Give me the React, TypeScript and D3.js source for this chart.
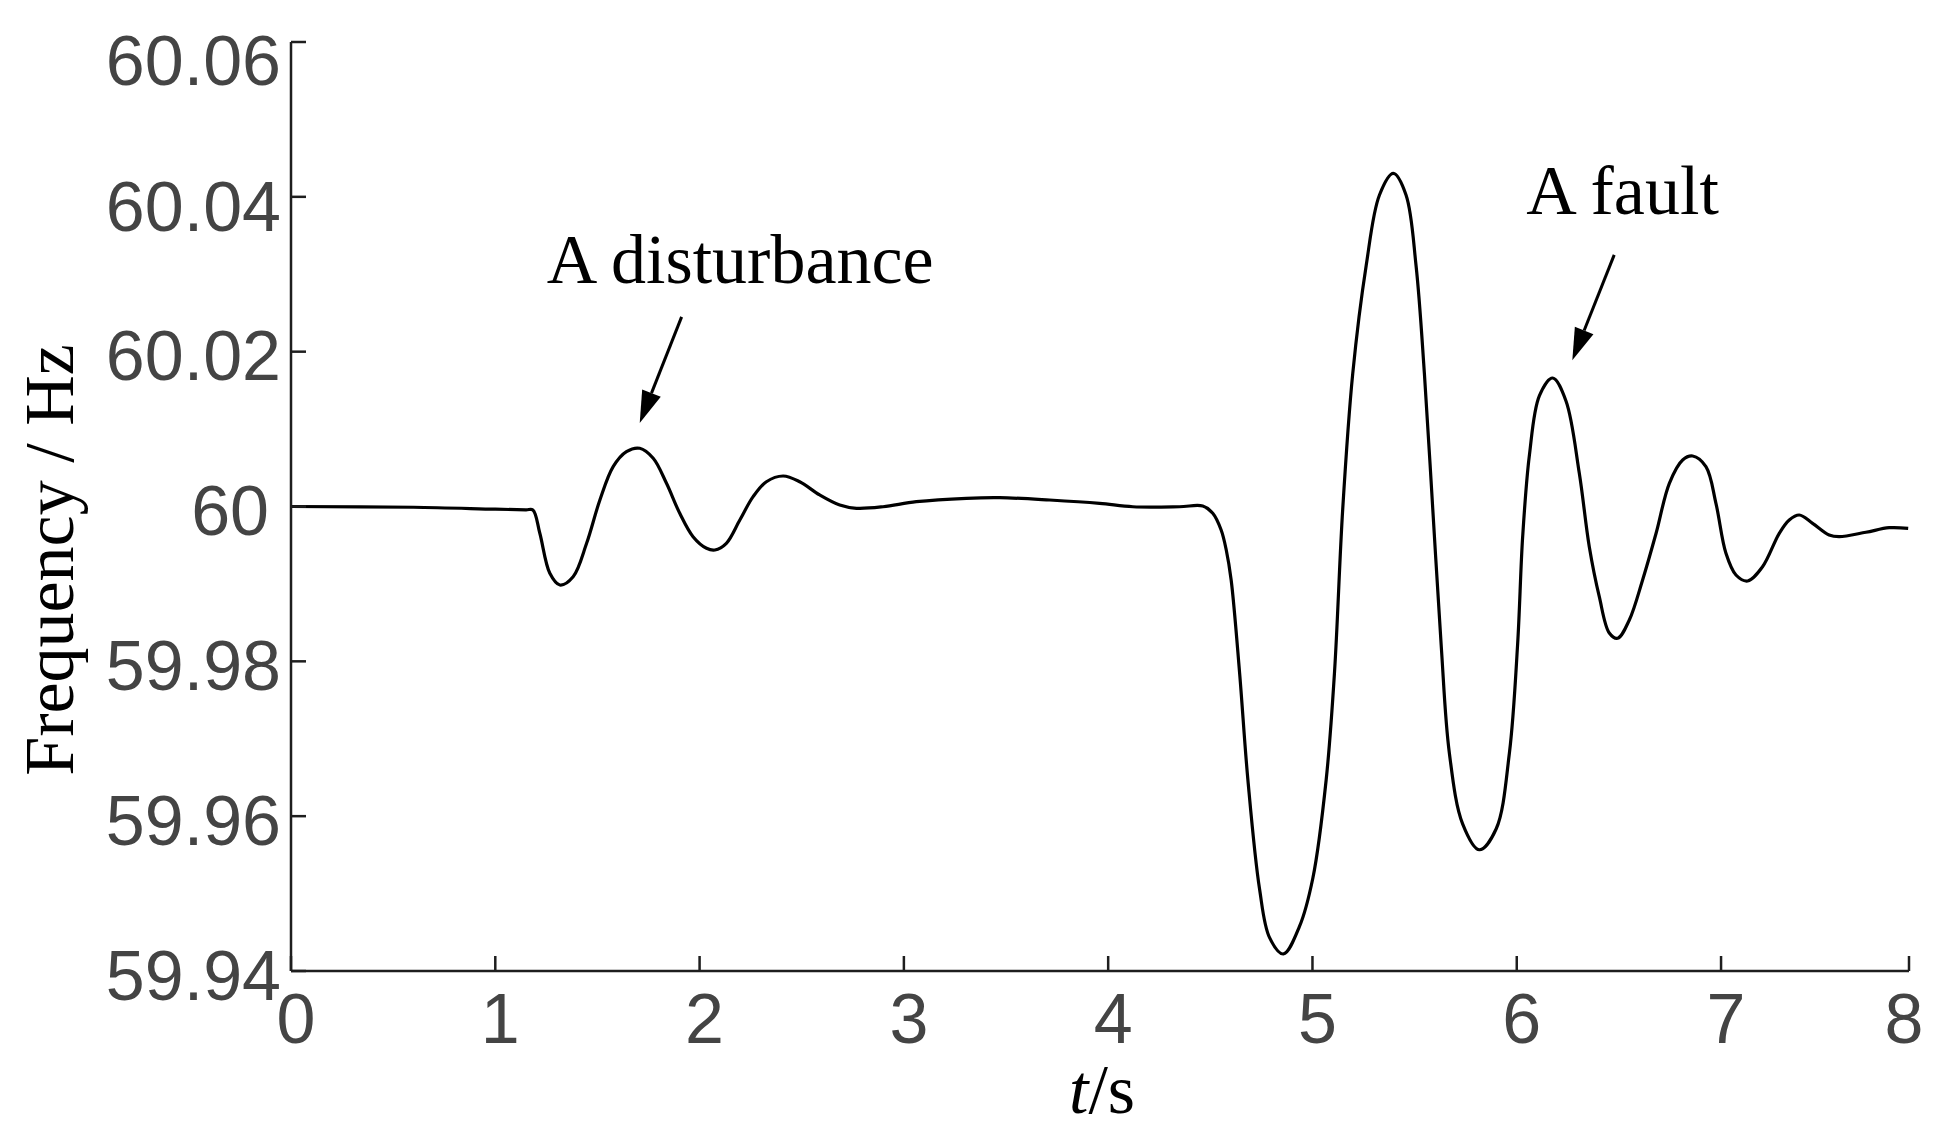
import React from "react";
import * as d3 from "d3";

// ---- data ----
const timeS = [0, 0.6, 1.0, 1.15, 1.184, 1.218, 1.267, 1.316, 1.381, 1.447, 1.512, 1.577, 1.642, 1.707, 1.773, 1.838, 1.903, 1.968, 2.034, 2.075, 2.131, 2.197, 2.262, 2.327, 2.409, 2.49, 2.588, 2.686, 2.768, 2.898, 3.061, 3.306, 3.469, 3.713, 3.958, 4.121, 4.349, 4.463, 4.512, 4.553, 4.578, 4.602, 4.643, 4.684, 4.741, 4.79, 4.858, 4.936, 5.002, 5.067, 5.108, 5.148, 5.197, 5.263, 5.328, 5.396, 5.458, 5.507, 5.548, 5.589, 5.63, 5.67, 5.735, 5.817, 5.899, 5.964, 6.004, 6.029, 6.062, 6.111, 6.176, 6.241, 6.306, 6.355, 6.404, 6.453, 6.494, 6.551, 6.616, 6.682, 6.747, 6.812, 6.861, 6.926, 6.975, 7.024, 7.073, 7.13, 7.203, 7.285, 7.334, 7.383, 7.448, 7.529, 7.578, 7.709, 7.823, 7.916];
const frequencyHz = [60.0, 59.9999, 59.99965, 59.99957, 59.99955, 59.99654, 59.99137, 59.98986, 59.99093, 59.99525, 60.00084, 60.00514, 60.00708, 60.00752, 60.00623, 60.003, 59.99912, 59.9961, 59.9946, 59.99438, 59.99525, 59.99826, 60.00127, 60.0032, 60.00394, 60.0032, 60.00149, 60.00019, 59.99977, 59.99997, 60.00062, 60.00106, 60.00114, 60.00084, 60.00041, 59.99997, 59.99997, 60.00006, 59.99912, 59.99696, 59.99438, 59.99051, 59.97862, 59.96467, 59.95059, 59.94431, 59.9422, 59.94572, 59.95201, 59.96467, 59.97862, 59.99963, 60.01712, 60.03113, 60.04024, 60.04303, 60.04024, 60.03113, 60.01712, 59.99963, 59.98211, 59.96816, 59.95901, 59.95566, 59.95834, 59.96816, 59.98211, 59.99613, 60.00665, 60.01432, 60.0166, 60.01363, 60.00433, 59.99481, 59.98835, 59.98366, 59.98298, 59.98534, 59.99051, 59.99654, 60.003, 60.00601, 60.00652, 60.00514, 60.00041, 59.99395, 59.99115, 59.99038, 59.99222, 59.99654, 59.99826, 59.9989, 59.99783, 59.99632, 59.9961, 59.99667, 59.99726, 59.99718];

const xTickValues = [0, 1, 2, 3, 4, 5, 6, 7];
const xTickLabels = ["0", "1", "2", "3", "4", "5", "6", "7", "8"];
const xEnd = 7.92; // right end of the drawn axis (labelled "8" in the figure)
const yTickValues = [60.06, 60.04, 60.02, 60, 59.98, 59.96, 59.94];
const yTickLabels = ["60.06", "60.04", "60.02", "60", "59.98", "59.96", "59.94"];

const annotationTexts = ["A disturbance", "A fault"];
const annotationTextAt = [[1.252, 60.0289], [6.047, 60.0378]];
const annotationArrowFrom = [[1.912, 60.0245], [6.477, 60.0325]];
const annotationArrowTo = [[1.707, 60.0108], [6.272, 60.0189]];

// ---- layout ----
const W = 1938;
const H = 1132;
const left = 291;
const right = 1909;
const top = 42;
const bottom = 971;
const sans = "'Liberation Sans', Arial, Helvetica, sans-serif";
const serif = "'Liberation Serif', 'Times New Roman', Times, serif";
const axisColor = "#1e1e1e";
const labelColor = "#444444";

export default function App() {
  const x = d3.scaleLinear().domain([0, xEnd]).range([left, right]);
  const y = d3.scaleLinear().domain([59.94, 60.06]).range([bottom, top]);

  const points: [number, number][] = timeS.map((t, i) => [t, frequencyHz[i]]);
  const line = d3
    .line<[number, number]>()
    .x((d) => x(d[0]))
    .y((d) => y(d[1]))
    .curve(d3.curveCatmullRom.alpha(0.5));

  const xTicksAll = [...xTickValues, xEnd];
  const yLabelNudge = (i: number) => (i === 0 ? 14 : i === 1 ? 6 : 0);
  const yLabelDx = (lbl: string) => (lbl === "60" ? -12 : 0);

  const arrowHead = (from: number[], to: number[]) => {
    const x1 = x(from[0]);
    const y1 = y(from[1]);
    const x2 = x(to[0]);
    const y2 = y(to[1]);
    const ang = Math.atan2(y2 - y1, x2 - x1);
    const len = 32;
    const half = 10;
    const bx = x2 - len * Math.cos(ang);
    const by = y2 - len * Math.sin(ang);
    const px = -Math.sin(ang) * half;
    const py = Math.cos(ang) * half;
    return {
      shaft: { x1, y1, x2: bx, y2: by },
      head: `M${x2},${y2}L${bx + px},${by + py}L${bx - px},${by - py}Z`,
    };
  };

  return (
    <svg
      width={W}
      height={H}
      viewBox={`0 0 ${W} ${H}`}
      style={{ position: "absolute", left: 0, top: 0, background: "#ffffff" }}
    >
      <rect x={0} y={0} width={W} height={H} fill="#ffffff" />

      {/* curve */}
      <path d={line(points) || ""} fill="none" stroke="#000" strokeWidth={3.2} strokeLinejoin="round" />

      {/* axes */}
      <line x1={left} y1={top} x2={left} y2={bottom} stroke={axisColor} strokeWidth={2.5} />
      <line x1={left} y1={bottom} x2={right} y2={bottom} stroke={axisColor} strokeWidth={2.5} />
      {yTickValues.map((v, i) => (
        <g key={"y" + v}>
          <line x1={left} x2={left + 15} y1={y(v)} y2={y(v)} stroke={axisColor} strokeWidth={2.5} />
          <text
            x={281 + yLabelDx(yTickLabels[i])}
            y={y(v) + 28.5 + yLabelNudge(i)}
            textAnchor="end"
            fontFamily={sans}
            fontSize={70}
            fill={labelColor}
          >
            {yTickLabels[i]}
          </text>
        </g>
      ))}
      {xTicksAll.map((v, i) => (
        <g key={"x" + i}>
          <line x1={x(v)} x2={x(v)} y1={bottom} y2={bottom - 15} stroke={axisColor} strokeWidth={2.5} />
          <text
            x={x(v) + (i === xTicksAll.length - 1 ? -5 : 5)}
            y={1043}
            textAnchor="middle"
            fontFamily={sans}
            fontSize={70}
            fill={labelColor}
          >
            {xTickLabels[i]}
          </text>
        </g>
      ))}

      {/* axis titles */}
      <text x={1102} y={1113} textAnchor="middle" fontFamily={serif} fontSize={70} fill="#000">
        <tspan fontStyle="italic">t</tspan>/s
      </text>
      <text
        transform={`translate(73,560) rotate(-90)`}
        textAnchor="middle"
        fontFamily={serif}
        fontSize={70}
        fill="#000"
      >
        Frequency / Hz
      </text>

      {/* annotations */}
      {annotationTexts.map((txt, i) => {
        const a = arrowHead(annotationArrowFrom[i], annotationArrowTo[i]);
        return (
          <g key={txt}>
            <text
              x={x(annotationTextAt[i][0])}
              y={y(annotationTextAt[i][1])}
              fontFamily={serif}
              fontSize={70}
              fill="#000"
            >
              {txt}
            </text>
            <line {...a.shaft} stroke="#000" strokeWidth={3} />
            <path d={a.head} fill="#000" />
          </g>
        );
      })}
    </svg>
  );
}
